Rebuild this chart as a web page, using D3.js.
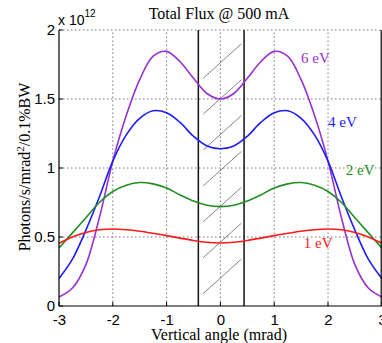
<!DOCTYPE html>
<html>
<head>
<meta charset="utf-8">
<script src="https://cdn.jsdelivr.net/npm/d3@7"></script>
<style>
  body { margin: 0; background: #fff; }
  svg { display: block; }
</style>
</head>
<body>
<div id="chart"></div>
<script>
var angles = [-3, -2.75, -2.5, -2.25, -2, -1.75, -1.5, -1.25, -1, -0.75, -0.5, -0.25, 0,
              0.25, 0.5, 0.75, 1, 1.25, 1.5, 1.75, 2, 2.25, 2.5, 2.75, 3];

// flux, units of 1e12
var flux6 = [0.065, 0.13, 0.3, 0.64, 1.05, 1.38, 1.64, 1.81, 1.845, 1.77, 1.65, 1.54, 1.5,
             1.54, 1.65, 1.77, 1.845, 1.81, 1.64, 1.38, 1.05, 0.64, 0.3, 0.13, 0.065];
var flux4 = [0.2, 0.34, 0.55, 0.79, 1.05, 1.24, 1.36, 1.415, 1.4, 1.33, 1.23, 1.16, 1.14,
             1.16, 1.23, 1.33, 1.4, 1.415, 1.36, 1.24, 1.05, 0.79, 0.55, 0.34, 0.2];
var flux2 = [0.42, 0.53, 0.64, 0.75, 0.83, 0.875, 0.895, 0.885, 0.855, 0.805, 0.76, 0.73, 0.72,
             0.73, 0.76, 0.805, 0.855, 0.885, 0.895, 0.875, 0.83, 0.75, 0.64, 0.53, 0.42];
var flux1 = [0.455, 0.5, 0.532, 0.552, 0.558, 0.553, 0.542, 0.527, 0.51, 0.492, 0.475, 0.462, 0.457,
             0.462, 0.475, 0.492, 0.51, 0.527, 0.542, 0.553, 0.558, 0.552, 0.532, 0.5, 0.455];

var seriesNames = ["6 eV", "4 eV", "2 eV", "1 eV"];
var seriesColors = ["#9b30d0", "#1c1cff", "#1f8f1f", "#ff1a1a"];
// label anchor (angle, flux) for each series
var labelX = [1.5, 2.0, 2.33, 1.55];
var labelY = [1.76, 1.30, 0.95, 0.42];

var xTicks = [-3, -2, -1, 0, 1, 2, 3];
var yTicks = [0, 0.5, 1, 1.5, 2];
var gridX = [-2, -1, 0, 1, 2];
var gridY = [0.5, 1, 1.5, 2];

// shaded band edges and hatch strokes (start flux at left edge)
var band = [-0.41, 0.44];
var hatchStart = [0.09, 0.35, 0.61, 0.87, 1.13, 1.39, 1.65];
var hatchX = [-0.32, 0.39];
var hatchRise = 0.25;

chart('#chart');

function chart(id) {
	var width = 382, height = 343;
	var margin = { top: 30, right: 0.2, bottom: 37, left: 59 };

	var svg = d3.select(id).append("svg")
		.attr("width", width)
		.attr("height", height);

	var x = d3.scaleLinear().domain([-3, 3]).range([margin.left, width - margin.right]);
	var y = d3.scaleLinear().domain([0, 2]).range([height - margin.bottom, margin.top]);

	// grid
	var grid = svg.append("g")
		.attr("stroke", "#555")
		.attr("stroke-width", 0.8)
		.attr("stroke-dasharray", "1.5,2.5");
	gridX.forEach(function(v) {
		grid.append("line")
			.attr("x1", x(v)).attr("x2", x(v))
			.attr("y1", y(0)).attr("y2", y(2));
	});
	gridY.forEach(function(v) {
		grid.append("line")
			.attr("x1", x(-3)).attr("x2", x(3))
			.attr("y1", y(v)).attr("y2", y(v));
	});

	// hatch in band
	var hatch = svg.append("g").attr("stroke", "#666").attr("stroke-width", 0.8);
	hatchStart.forEach(function(v) {
		hatch.append("line")
			.attr("x1", x(hatchX[0])).attr("y1", y(v))
			.attr("x2", x(hatchX[1])).attr("y2", y(v + hatchRise));
	});

	// band edges
	band.forEach(function(v) {
		svg.append("line")
			.attr("x1", x(v)).attr("x2", x(v))
			.attr("y1", y(0)).attr("y2", y(2))
			.attr("stroke", "#111")
			.attr("stroke-width", 1.5);
	});

	// curves
	var line = d3.line()
		.x(function(d) { return x(d[0]); })
		.y(function(d) { return y(d[1]); })
		.curve(d3.curveCatmullRom);

	[flux6, flux4, flux2, flux1].forEach(function(vals, i) {
		svg.append("path")
			.datum(angles.map(function(a, k) { return [a, vals[k]]; }))
			.attr("d", line)
			.attr("fill", "none")
			.attr("stroke", seriesColors[i])
			.attr("stroke-width", 1.6);

		svg.append("text")
			.attr("x", x(labelX[i])).attr("y", y(labelY[i]))
			.attr("fill", seriesColors[i])
			.style("font-family", "Liberation Serif, serif")
			.style("font-size", "15px")
			.text(seriesNames[i]);
	});

	// axes frame
	svg.append("line")
		.attr("x1", x(-3)).attr("x2", x(-3))
		.attr("y1", y(0)).attr("y2", y(2))
		.attr("stroke", "#000").attr("stroke-width", 1.2);
	svg.append("line")
		.attr("x1", x(-3)).attr("x2", x(3))
		.attr("y1", y(0)).attr("y2", y(0))
		.attr("stroke", "#000").attr("stroke-width", 1.2);
	svg.append("line")
		.attr("x1", x(3) - 0.6).attr("x2", x(3) - 0.6)
		.attr("y1", y(0)).attr("y2", y(2))
		.attr("stroke", "#000").attr("stroke-width", 1.2);

	// ticks
	var xAxis = d3.axisBottom(x).tickValues(xTicks).tickSize(0).tickPadding(8)
		.tickFormat(d3.format("d"));
	var gx = svg.append("g")
		.attr("transform", "translate(0," + y(0) + ")")
		.call(xAxis);
	gx.select(".domain").remove();
	gx.selectAll("text")
		.style("font-family", "Liberation Sans, Arial, sans-serif")
		.style("font-size", "15px")
		.attr("fill", "#000")
		.text(function(d) { return d < 0 ? "-" + Math.abs(d) : d; });

	var yAxis = d3.axisLeft(y).tickValues(yTicks).tickSize(0).tickPadding(4)
		.tickFormat(function(d) { return d; });
	var gy = svg.append("g")
		.attr("transform", "translate(" + x(-3) + ",0)")
		.call(yAxis);
	gy.select(".domain").remove();
	gy.selectAll("text")
		.style("font-family", "Liberation Sans, Arial, sans-serif")
		.style("font-size", "15px")
		.attr("fill", "#000");

	// small inward tick marks
	xTicks.forEach(function(v) {
		svg.append("line")
			.attr("x1", x(v)).attr("x2", x(v))
			.attr("y1", y(0)).attr("y2", y(0) - 4)
			.attr("stroke", "#000");
	});
	yTicks.forEach(function(v) {
		svg.append("line")
			.attr("x1", x(-3)).attr("x2", x(-3) + 4)
			.attr("y1", y(v)).attr("y2", y(v))
			.attr("stroke", "#000");
	});

	// exponent
	var ex = svg.append("text")
		.attr("x", x(-3) - 1).attr("y", 25)
		.style("font-family", "Liberation Sans, Arial, sans-serif")
		.style("font-size", "14px");
	ex.append("tspan").text("x 10");
	ex.append("tspan").attr("dy", -8).style("font-size", "10px").text("12");

	// title
	svg.append("text")
		.attr("x", 219).attr("y", 19)
		.attr("text-anchor", "middle")
		.style("font-family", "Liberation Serif, serif")
		.style("font-size", "16px")
		.text("Total Flux @ 500 mA");

	// axis labels
	svg.append("text")
		.attr("x", 219).attr("y", 340)
		.attr("text-anchor", "middle")
		.style("font-family", "Liberation Serif, serif")
		.style("font-size", "16px")
		.text("Vertical angle (mrad)");

	var yl = svg.append("text")
		.attr("transform", "translate(30," + 167 + ") rotate(-90)")
		.attr("text-anchor", "middle")
		.style("font-family", "Liberation Serif, serif")
		.style("font-size", "16px");
	yl.append("tspan").text("Photons/s/mrad");
	yl.append("tspan").attr("dy", -6).style("font-size", "11px").text("2");
	yl.append("tspan").attr("dy", 6).text("/0.1%BW");
}
</script>
</body>
</html>
